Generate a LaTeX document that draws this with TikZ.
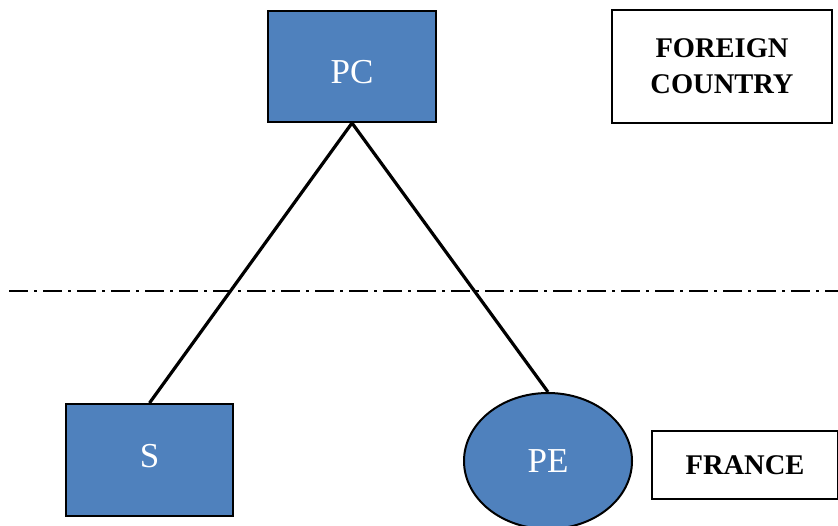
\documentclass[tikz,border=0pt]{standalone}
\usepackage{fontspec}
\setmainfont{Liberation Serif}
\usetikzlibrary{shapes.geometric}
\definecolor{boxblue}{HTML}{4F81BD}
\begin{document}
\begin{tikzpicture}[x=1pt,y=-1pt,
  bluebox/.style={draw=black,line width=2pt,fill=boxblue,text=white,font=\fontsize{35}{38}\selectfont,inner sep=0pt},
  labelbox/.style={draw=black,line width=1.6pt,fill=white,font=\bfseries\fontsize{28.5}{36}\selectfont,align=center,inner sep=0pt},
  link/.style={line width=3.2pt}]
\useasboundingbox (0,0) rectangle (838,525);
\begin{scope}
\clip (0,0) rectangle (838,525);
\node[bluebox,minimum width=168pt,minimum height=111pt] (pc) at (352,66.5) {};
\node[text=white,font=\fontsize{35}{38}\selectfont] (pct) at (352,72) {PC};
\node[bluebox,minimum width=167pt,minimum height=112pt] (s) at (149.5,460) {};
\node[text=white,font=\fontsize{35}{38}\selectfont] (st) at (149.5,456) {S};
\node[bluebox,ellipse,minimum width=168pt,minimum height=136pt] (pe) at (548,461) {PE};
\node[labelbox,minimum width=220pt,minimum height=113pt] (fc) at (722,66.5) {FOREIGN\\COUNTRY};
\node[labelbox,minimum width=186pt,minimum height=68pt] (fr) at (745,465) {FRANCE};
\coordinate (l1) at (9,291);
\coordinate (l2) at (838,291);
\draw[line width=2pt,dash pattern=on 19pt off 6pt on 3pt off 6pt] (l1) -- (l2);
\draw[link] (pc.south) -- (s.north);
\draw[link] (pc.south) -- (pe.north);
\end{scope}
\end{tikzpicture}
\end{document}
